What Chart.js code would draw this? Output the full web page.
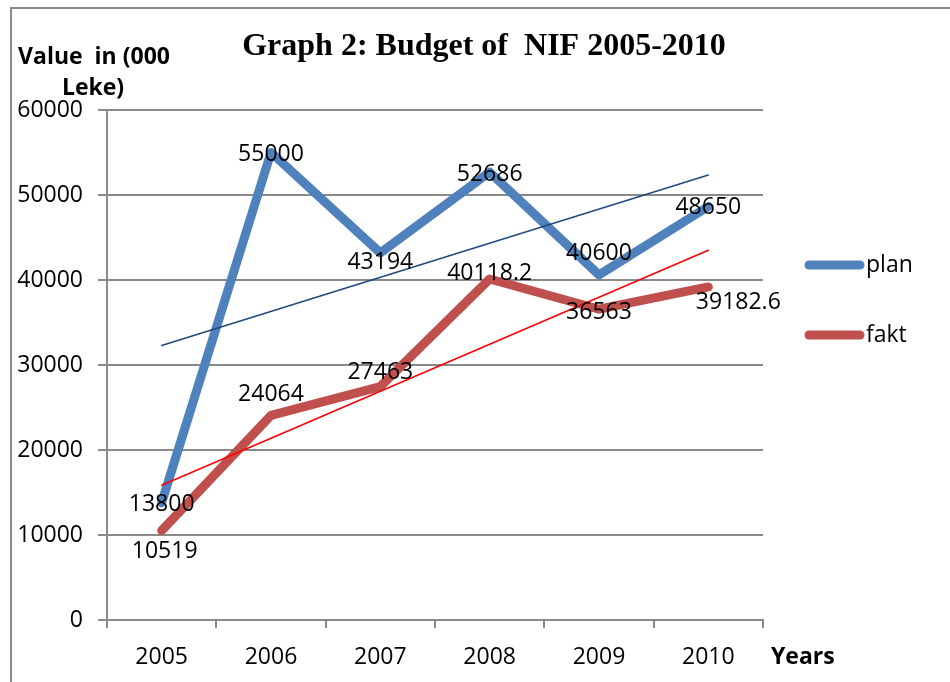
<!DOCTYPE html>
<html>
<head>
<meta charset="utf-8">
<script src="https://cdn.jsdelivr.net/npm/chart.js@4.4.1/dist/chart.umd.min.js"></script>
<style>
  body { margin: 0; background: #fff; }
  #wrap { width: 950px; height: 682px; }
</style>
</head>
<body>
<div id="wrap"><canvas id="budgetChart" width="950" height="682"></canvas></div>
<script>
// categories and values
var years = ["2005", "2006", "2007", "2008", "2009", "2010"];
var plan = [13800, 55000, 43194, 52686, 40600, 48650];
var fakt = [10519, 24064, 27463, 40118.2, 36563, 39182.6];
var planLabels = ["13800", "55000", "43194", "52686", "40600", "48650"];
var faktLabels = ["10519", "24064", "27463", "40118.2", "36563", "39182.6"];
// linear trend lines, only the end points (2005 and 2010)
var planTrend = [32300, null, null, null, null, 52350];
var faktTrend = [15850, null, null, null, null, 43500];
var yTicks = [0, 10000, 20000, 30000, 40000, 50000, 60000];

// label nudges in pixels [dx, dy]
var planNudge = [[0, 2], [0, 2], [0, 10], [0, 2], [0, -21], [0, 1]];
var faktNudge = [[3, 21], [0, -21], [0, -14], [0, -6], [0, 3], [30, 16]];

var sans = "'Open Sans', 'Liberation Sans', sans-serif";

var decorPlugin = {
  id: "decor",
  beforeDraw: function(chart) {
    var c = chart.ctx;
    c.save();
    c.fillStyle = "#fff";
    c.fillRect(0, 0, chart.width, chart.height);
    c.strokeStyle = "#8a8a8a";
    c.lineWidth = 2;
    c.strokeRect(11, 8, 1000, 800);
    c.restore();
  },
  afterDatasetsDraw: function(chart) {
    var c = chart.ctx;
    c.save();
    // data labels
    c.fillStyle = "#000";
    c.font = "23px " + sans;
    c.textAlign = "center";
    c.textBaseline = "middle";
    var sets = [[0, planLabels, planNudge], [1, faktLabels, faktNudge]];
    sets.forEach(function(s) {
      var meta = chart.getDatasetMeta(s[0]);
      meta.data.forEach(function(pt, i) {
        c.fillText(s[1][i], pt.x + s[2][i][0], pt.y + s[2][i][1]);
      });
    });

    // title
    c.font = "bold 32px 'Liberation Serif', 'Times New Roman', serif";
    c.textBaseline = "alphabetic";
    c.fillText("Graph 2: Budget of  NIF 2005-2010", 484, 55);

    // axis titles
    c.font = "bold 23px " + sans;
    c.textBaseline = "middle";
    c.fillText("Value  in (000", 94, 57);
    c.fillText("Leke)", 93, 88);
    c.textAlign = "left";
    c.fillText("Years", 771, 657);

    // legend
    var items = [["plan", "#4F81BD", 265], ["fakt", "#C0504D", 335]];
    items.forEach(function(it) {
      c.strokeStyle = it[1];
      c.lineWidth = 9;
      c.lineCap = "round";
      c.beginPath();
      c.moveTo(809, it[2]);
      c.lineTo(860, it[2]);
      c.stroke();
      c.font = "23px " + sans;
      c.fillStyle = "#000";
      c.fillText(it[0], 866, it[2]);
    });
    c.restore();
  }
};

var ctx = document.getElementById("budgetChart").getContext("2d");
var budgetChart = new Chart(ctx, {
  type: "line",
  data: {
    labels: years,
    datasets: [
      { label: "plan", data: plan, borderColor: "#4F81BD", borderWidth: 9, order: 3 },
      { label: "fakt", data: fakt, borderColor: "#C0504D", borderWidth: 9, order: 2 },
      { label: "planTrend", data: planTrend, borderColor: "#1F497D", borderWidth: 1.5, spanGaps: true, order: 1 },
      { label: "faktTrend", data: faktTrend, borderColor: "#FF0000", borderWidth: 1.5, spanGaps: true, order: 0 }
    ]
  },
  options: {
    responsive: false,
    animation: false,
    layout: { padding: { top: 110, right: 187, left: 0, bottom: 0 } },
    elements: {
      point: { radius: 0, hoverRadius: 0 },
      line: { tension: 0, borderCapStyle: "round", borderJoinStyle: "round", fill: false }
    },
    plugins: {
      legend: { display: false },
      title: { display: false },
      tooltip: { enabled: false }
    },
    scales: {
      x: {
        offset: true,
        afterFit: function(scale) { scale.height = 62; },
        grid: { offset: true, drawOnChartArea: false, color: "#8a8a8a", lineWidth: 2, tickLength: 8 },
        border: { color: "#8a8a8a", width: 2 },
        ticks: { color: "#000", font: { family: sans, size: 23 }, padding: 16 }
      },
      y: {
        min: 0,
        max: 60000,
        afterFit: function(scale) { scale.width = 107; },
        afterBuildTicks: function(scale) {
          scale.ticks = yTicks.map(function(v) { return { value: v }; });
        },
        grid: { color: "#8a8a8a", lineWidth: 2, tickLength: 9 },
        border: { color: "#8a8a8a", width: 2 },
        ticks: {
          color: "#000",
          font: { family: sans, size: 23 },
          padding: 15,
          callback: function(v) { return String(v); }
        }
      }
    }
  },
  plugins: [decorPlugin]
});
</script>
</body>
</html>
